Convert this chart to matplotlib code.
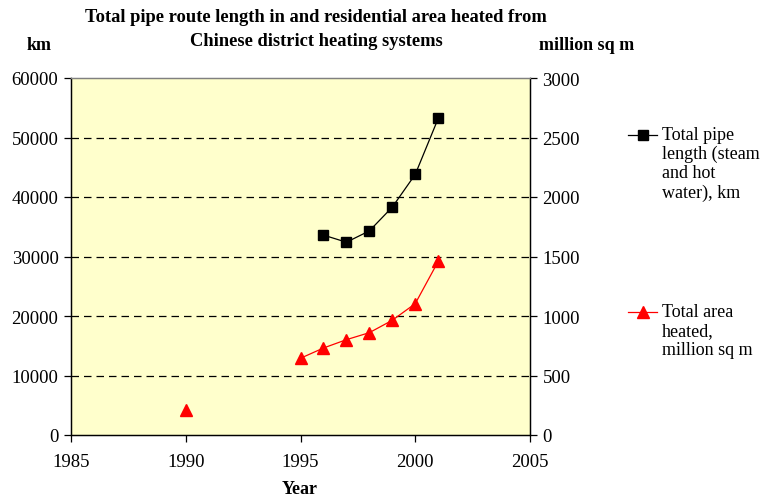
import numpy as np
import matplotlib.pyplot as plt
from matplotlib.lines import Line2D

# Datos: longitud de tuberías (km) y superficie calefactada (millones de m2)
anios_tuberia = [1996, 1997, 1998, 1999, 2000, 2001]
longitud_km = [33600, 32400, 34300, 38300, 43800, 53200]

# 1991-1994 sin datos (la línea se interrumpe)
anios_area = [1990, 1991, 1992, 1993, 1994, 1995, 1996, 1997, 1998, 1999, 2000, 2001]
area_msqm = [210, np.nan, np.nan, np.nan, np.nan, 645, 731, 801, 860, 964, 1104, 1459]

ticks_izq = [0, 10000, 20000, 30000, 40000, 50000, 60000]
ticks_der = [0, 500, 1000, 1500, 2000, 2500, 3000]
ticks_x = [1985, 1990, 1995, 2000, 2005]

plt.rcParams['font.family'] = ['Liberation Serif', 'DejaVu Serif']
plt.rcParams['font.size'] = 13.5

W, H = 761, 502
fig = plt.figure(figsize=(W / 100, H / 100), dpi=100)
ax = fig.add_axes([71 / W, 1 - 436 / H, (530 - 71) / W, (436 - 79) / H])
ax2 = ax.twinx()

ax.set_facecolor('#FFFFCC')
ax.set_xlim(1985, 2005)
ax.set_ylim(0, 60000)
ax2.set_ylim(0, 3000)
ax.set_xticks(ticks_x)
ax.set_yticks(ticks_izq)
ax2.set_yticks(ticks_der)

# Líneas de cuadrícula discontinuas
for v in ticks_izq[1:-1]:
    ax.axhline(v, color='black', lw=0.9, ls=(0, (6, 4)), zorder=1)

ax.plot(anios_tuberia, longitud_km, color='black', lw=0.9, marker='s',
        markersize=6.5, zorder=3)
ax2.plot(anios_area, area_msqm, color='red', lw=0.9, marker='^',
         markersize=8.5, zorder=3)

for a in (ax, ax2):
    a.tick_params(direction='out', length=5, width=0.9, color='black', pad=4)
    for s in a.spines.values():
        s.set_color('black')
        s.set_linewidth(0.9)
ax.spines['top'].set_color('#808080')
ax2.spines['top'].set_color('#808080')
ax.tick_params(axis='x', pad=8)

# Títulos y etiquetas de ejes
fig.text(316 / W, 1 - 18 / H, 'Total pipe route length in and residential area heated from',
         ha='center', va='center', fontsize=13.3, fontweight='bold')
fig.text(316 / W, 1 - 42 / H, 'Chinese district heating systems',
         ha='center', va='center', fontsize=13.3, fontweight='bold')
fig.text(39 / W, 1 - 45 / H, 'km', ha='center', va='center', fontsize=13, fontweight='bold')
fig.text(587 / W, 1 - 46 / H, 'million sq m', ha='center', va='center', fontsize=13,
         fontweight='bold')
fig.text(300 / W, 1 - 490 / H, 'Year', ha='center', va='center', fontsize=13,
         fontweight='bold')

# Leyenda manual a la derecha
def entrada(y_px, color, marker, ms, texto):
    fig.add_artist(Line2D([628 / W, 657 / W], [1 - y_px / H, 1 - y_px / H],
                          transform=fig.transFigure, color=color, lw=0.9))
    fig.add_artist(Line2D([642.5 / W], [1 - y_px / H], transform=fig.transFigure,
                          color=color, marker=marker, markersize=ms, lw=0))
    fig.text(662 / W, 1 - (y_px - 9) / H, texto, ha='left', va='top',
             fontsize=13, linespacing=1.15)

entrada(136, 'black', 's', 6.5, 'Total pipe\nlength (steam\nand hot\nwater), km')
entrada(313, 'red', '^', 8.5, 'Total area\nheated,\nmillion sq m')

fig.savefig('out.png', dpi=100)
